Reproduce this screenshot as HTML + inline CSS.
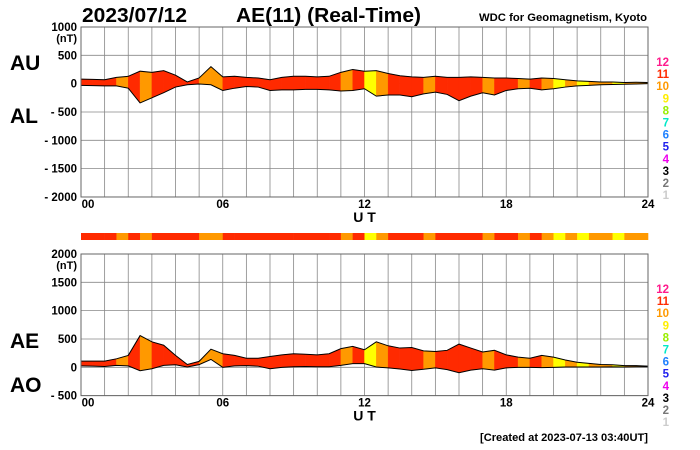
<!DOCTYPE html>
<html><head><meta charset="utf-8"><style>
html,body{margin:0;padding:0;background:#fff;}
svg{display:block;font-family:"Liberation Sans",sans-serif;}
</style></head><body>
<svg id="chart" width="700" height="450" viewBox="0 0 700 450" xmlns="http://www.w3.org/2000/svg">
<rect width="700" height="450" fill="#fff"/>
<text x="82" y="22" font-size="20" font-weight="bold" textLength="105" lengthAdjust="spacingAndGlyphs">2023/07/12</text>
<text x="236" y="22" font-size="20" font-weight="bold" textLength="185" lengthAdjust="spacingAndGlyphs">AE(11) (Real-Time)</text>
<text x="479" y="21" font-size="11" font-weight="bold" textLength="168" lengthAdjust="spacingAndGlyphs">WDC for Geomagnetism, Kyoto</text>
<text x="10" y="70" font-size="21" font-weight="bold">AU</text>
<text x="10" y="123" font-size="21" font-weight="bold">AL</text>
<text x="10" y="348" font-size="21" font-weight="bold">AE</text>
<text x="10" y="392" font-size="21" font-weight="bold">AO</text>
<text x="480" y="441" font-size="11" font-weight="bold" textLength="168" lengthAdjust="spacingAndGlyphs">[Created at 2023-07-13 03:40UT]</text>
<g id="top"></g>
<g id="bar"></g>
<g id="bot"></g>
</svg>
<script>
const hours = [0,0.5,1,1.5,2,2.5,3,3.5,4,4.5,5,5.5,6,6.5,7,7.5,8,8.5,9,9.5,10,10.5,11,11.5,12,12.5,13,13.5,14,14.5,15,15.5,16,16.5,17,17.5,18,18.5,19,19.5,20,20.5,21,21.5,22,22.5,23,23.5,24];
const auValues = [80,75,70,110,130,220,200,230,150,30,100,300,120,130,110,100,70,110,130,130,120,130,200,250,220,230,180,140,120,110,130,110,110,120,110,100,100,90,80,100,90,70,50,40,30,30,20,25,20];
const alValues = [-30,-35,-40,-40,-80,-340,-250,-160,-60,-20,-5,-20,-120,-80,-50,-60,-120,-110,-110,-100,-100,-110,-130,-120,-90,-220,-200,-200,-230,-180,-150,-190,-300,-220,-160,-200,-120,-90,-80,-110,-90,-60,-40,-30,-20,-15,-10,-5,0];
const stationCounts = [11,11,11,10,11,10,11,11,11,11,10,10,11,11,11,11,11,11,11,11,11,11,10,11,9,10,11,11,11,10,11,11,11,11,10,11,11,10,11,10,9,10,9,10,10,9,10,10];
const topTicks = [1000,500,0,-500,-1000,-1500,-2000];
const topTickLabels = ["1000","500","0","- 500","- 1000","- 1500","- 2000"];
const botTicks = [2000,1500,1000,500,0,-500];
const botTickLabels = ["2000","1500","1000","500","0","- 500"];
const xTicks = [0,6,12,18,24];
const xTickLabels = ["00","06","12","18","24"];
const legendLabels = ["12","11","10","9","8","7","6","5","4","3","2","1"];
const legendColors = ["#ff1a8c","#ff2a00","#ff9900","#ffee00","#99ee00","#00e8c8","#1e80ff","#2020ee","#ee00ee","#000000","#777777","#cccccc"];
const classColor = {12:"#ff1a8c",11:"#ff2a00",10:"#ff9900",9:"#ffff00"};

const NS="http://www.w3.org/2000/svg";
const X0=81,X1=648;
const xs=h=>X0+(X1-X0)*h/24;
function mk(parent,tag,attrs){const e=document.createElementNS(NS,tag);for(const k in attrs)e.setAttribute(k,attrs[k]);parent.appendChild(e);return e;}

function panel(g,ytop,vmax,vmin,ticks,labels,up,lo,pre){
  const ybot=ytop+(vmax-vmin)*28.33/500;
  const ys=v=>ytop+(vmax-v)*(ybot-ytop)/(vmax-vmin);
  for(let h=1;h<24;h++){const l=mk(g,'line',{x1:xs(h),x2:xs(h),y1:ytop,y2:ybot,stroke:'#888','stroke-width':0.8});
    }
  ticks.forEach((t,i)=>{const l=mk(g,'line',{x1:X0,x2:X1,y1:ys(t),y2:ys(t),stroke:'#888','stroke-width':0.8});
    
    const tx=mk(g,'text',{x:77,y:ys(t)+4,'font-size':11.5,'font-weight':'bold','text-anchor':'end'});tx.textContent=labels[i];
    });
  const nt=mk(g,'text',{x:77,y:ys(ticks[0])+15,'font-size':11,'font-weight':'bold','text-anchor':'end'});nt.textContent='(nT)';
  
  for(let i=0;i<stationCounts.length;i++){
    const pts=[[xs(hours[i]),ys(up[i])],[xs(hours[i+1]),ys(up[i+1])],[xs(hours[i+1]),ys(lo[i+1])],[xs(hours[i]),ys(lo[i])]];
    const p=mk(g,'polygon',{points:pts.map(q=>q.join(',')).join(' '),fill:classColor[stationCounts[i]],stroke:classColor[stationCounts[i]],'stroke-width':0.4});
    }
  [up,lo].forEach((arr,k)=>{const d=arr.map((v,i)=>(i?'L':'M')+xs(hours[i])+','+ys(v)).join(' ');
    const pl=mk(g,'path',{d:d,fill:'none',stroke:'#000','stroke-width':1});
    });
  const fr=mk(g,'rect',{x:X0,y:ytop,width:X1-X0,height:ybot-ytop,fill:'none',stroke:'#666','stroke-width':1});
  
  xTicks.forEach((h,i)=>{const t=mk(g,'text',{x:xs(h)+(i==0?7:0),y:ybot+11,'font-size':11.5,'font-weight':'bold','text-anchor':'middle'});t.textContent=xTickLabels[i];
    });
  const ut=mk(g,'text',{x:xs(12),y:ybot+25,'font-size':14,'font-weight':'bold','text-anchor':'middle'});ut.textContent='U T';
  
  legendLabels.forEach((s,i)=>{const t=mk(g,'text',{x:669,y:ytop+39+i*12.1,'font-size':11.5,'font-weight':'bold','text-anchor':'end',fill:legendColors[i]});t.textContent=s;
    });
}
panel(document.getElementById('top'),27,1000,-2000,topTicks,topTickLabels,auValues,alValues,'top-');
const aeValues=auValues.map((u,i)=>u-alValues[i]);
const aoValues=auValues.map((u,i)=>(u+alValues[i])/2);
panel(document.getElementById('bot'),254,2000,-500,botTicks,botTickLabels,aeValues,aoValues,'bottom-');
const bar=document.getElementById('bar');
stationCounts.forEach((c,i)=>{const r=mk(bar,'rect',{x:xs(hours[i]),y:233,width:xs(hours[i+1])-xs(hours[i])+0.3,height:7,fill:classColor[c]});
  });
</script>
</body></html>
